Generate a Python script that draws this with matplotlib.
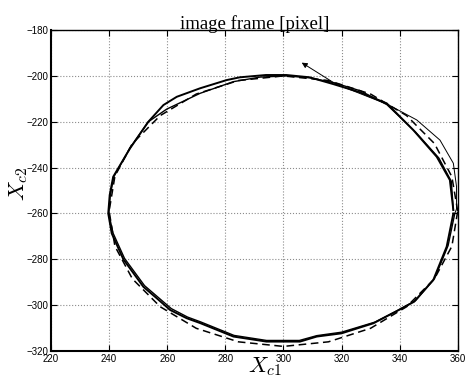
import numpy as np
import matplotlib
matplotlib.use("Agg")
import matplotlib.pyplot as plt

plt.rcParams['mathtext.fontset'] = 'cm'

# reference ellipse (dashed)
ref_x = [360, 358, 352, 342.4, 330, 315.5, 300, 284.5, 270, 257.6, 248, 242, 240,
         242, 248, 257.6, 270, 284.5, 300, 315.5, 330, 342.4, 352, 358, 360]
ref_y = [-259, -244, -229.5, -217.3, -207.9, -202, -200, -202, -207.9, -217.3, -229.5, -243.7, -259,
         -274.3, -288.5, -300.7, -310.1, -316, -318, -316, -310.1, -300.7, -288.5, -274.3, -259]

# first lap of the measured trajectory
lap1_x = [358.5, 357.3, 352.8, 344.7, 335.6, 326, 317, 309, 301, 294, 285, 280.5, 271.3,
          263.3, 258.7, 253.5, 247.2, 241.4, 240.2, 239.7, 240.9, 244.9, 251.8, 256.4, 261,
          266.7, 271.3, 282.8, 294.2, 305.7, 311.5, 320, 331, 339, 345, 351.6, 356.2, 358.5]
lap1_y = [-258.5, -245.4, -235.3, -223.6, -212, -207, -203.5, -200.6, -199.6, -199.6, -200.6,
          -201.8, -205.4, -209.1, -212.7, -220, -231.6, -244, -252, -260, -268.7, -280, -292,
          -297, -302.1, -305.7, -307.8, -313.7, -315.9, -315.9, -313.7, -312.3, -307.9, -302.6,
          -298.5, -289, -274.5, -260]

# second lap (inner branch on the upper left)
lap2_x = [358.5, 357.8, 353.5, 345.5, 335.6, 326.5, 317.5, 309, 301, 292, 282.8, 271.3,
          259.8, 253.5, 247.2, 241.6, 240.4, 239.9, 241.3, 245.3, 252.2, 256.8, 261.4,
          267, 271.5, 283, 294.2, 305.5, 311.5, 320, 331.5, 339.5, 345.5, 352, 356.7, 359]
lap2_y = [-258.5, -246, -235.8, -224.5, -212.5, -206.5, -203, -200.8, -200, -200.5, -202.5,
          -207.6, -214.5, -220, -231.4, -244, -252, -260, -268.4, -279.6, -291.5, -296.5,
          -301.5, -305.2, -307.3, -313.2, -315.4, -315.4, -313.3, -311.8, -307.4, -302.2,
          -298, -288.5, -274, -260]

# last (thin) part ending with the arrow
end_x = [359, 359.6, 359.6, 358.5, 353.9, 345.9, 336, 325, 318, 306.3]
end_y = [-260, -258, -248.3, -238.1, -228, -219.2, -212.5, -207, -203.5, -194.2]

fig = plt.figure(figsize=(4.65, 3.76), dpi=100)
ax = fig.add_axes([0.1097, 0.0665, 0.8746, 0.8535])

ax.plot(ref_x, ref_y, 'k--', lw=1.1, dashes=(5, 3))
ax.plot(lap1_x, lap1_y, 'k-', lw=1.4)
ax.plot(lap2_x, lap2_y, 'k-', lw=1.0)
ax.plot(end_x[:-1], end_y[:-1], 'k-', lw=0.7)
ax.annotate('', xy=(end_x[-1], end_y[-1]), xytext=(end_x[-2], end_y[-2]),
            arrowprops=dict(arrowstyle='-|>', color='k', lw=0.7,
                            mutation_scale=8, shrinkA=0, shrinkB=0))

ax.set_xlim(220, 360)
ax.set_ylim(-320, -180)
ax.set_xticks(np.arange(220, 361, 20))
ax.set_yticks(np.arange(-320, -179, 20))
ax.grid(True, linestyle=':', color='0.55', lw=0.8)
ax.tick_params(direction='in', length=4, top=True, right=True, labelsize=7, pad=2)
for lab in ax.get_xticklabels() + ax.get_yticklabels():
    lab.set_family('Liberation Sans')
for s in ['left', 'bottom']:
    ax.spines[s].set_linewidth(1.5)
for s in ['top', 'right']:
    ax.spines[s].set_linewidth(1.0)

ax.set_title('image frame [pixel]', family='Liberation Serif', fontsize=13.5, pad=1)
ax.set_xlabel('$X_{c1}$', fontsize=16)
ax.set_ylabel('$X_{c2}$', fontsize=16)
ax.xaxis.set_label_coords(0.525, -0.014)
ax.yaxis.set_label_coords(-0.052, 0.52)

fig.savefig('out.png', dpi=100)
